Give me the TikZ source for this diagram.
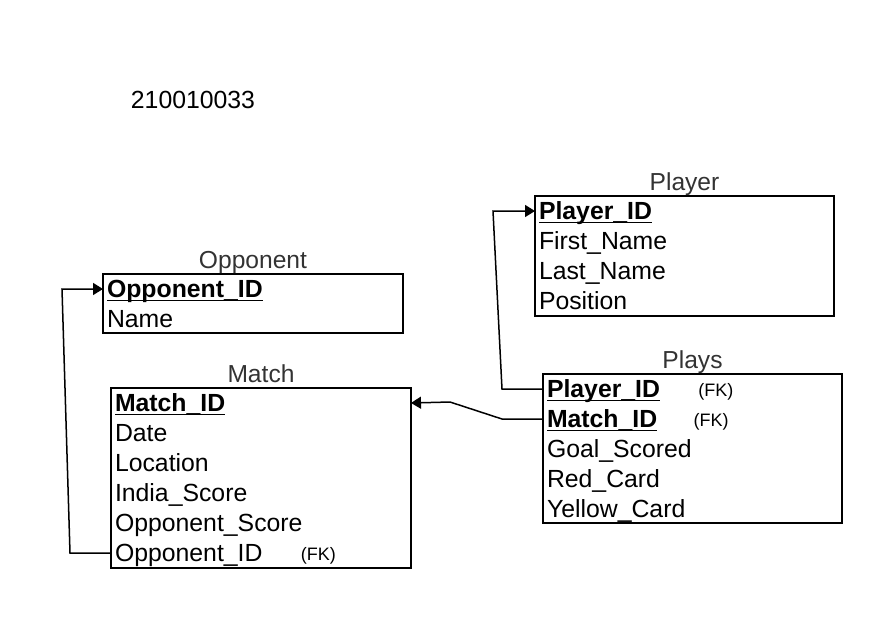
\documentclass[tikz,border=0pt]{standalone}
\usepackage{fontspec}
\setmainfont{Liberation Sans}
\usetikzlibrary{positioning}
\usetikzlibrary{arrows.meta}
\usetikzlibrary{calc}

\newcommand\keyname[1]{\setbox0\hbox{#1}\rlap{\rule[-1.9pt]{\wd0}{0.75pt}}\box0}

\begin{document}
\begin{tikzpicture}[x=0.5pt, y=-0.5pt,
    table/.style={draw, line width=0.8pt, anchor=north west, inner sep=0pt, outer sep=0pt},
    title/.style={font=\fontsize{12.3}{14}\selectfont, text=black!80, inner sep=0pt, text depth=2.5pt},
    row/.style={font=\fontsize{12.4}{14}\selectfont, inner xsep=2pt, inner ysep=0.5pt,
      text height=11.3pt, text depth=2.7pt, outer sep=0pt},
    key/.style={row, font=\fontsize{12.4}{14}\selectfont\bfseries},
    fk/.style={font=\fontsize{9}{10}\selectfont, inner sep=0pt, yshift=-1.2pt},
    link/.style={line width=0.75pt, -{Triangle[length=5pt, width=6pt]}}]
  \useasboundingbox (0,0) rectangle (896,628);

  \node[title, font=\fontsize{12.4}{14}\selectfont, text=black] (id) at (193,102) {210010033};

  \node[table, minimum width=150pt, minimum height=29.5pt,
    label={[title, label distance=0pt]above:Opponent}] (opp) at (103,274) {};
  \node[key, below right=0pt and 0pt of opp.north west] (o1) {\keyname{Opponent\_ID}};
  \node[row, below right=0pt and 0pt of o1.south west] (o2) {Name};

  \node[table, minimum width=150pt, minimum height=90pt,
    label={[title, label distance=0pt]above:Match}] (match) at (111,388) {};
  \node[key, below right=0pt and 0pt of match.north west] (m1) {\keyname{Match\_ID}};
  \node[row, below right=0pt and 0pt of m1.south west] (m2) {Date};
  \node[row, below right=0pt and 0pt of m2.south west] (m3) {Location};
  \node[row, below right=0pt and 0pt of m3.south west] (m4) {India\_Score};
  \node[row, below right=0pt and 0pt of m4.south west] (m5) {Opponent\_Score};
  \node[row, below right=0pt and 0pt of m5.south west] (m6) {Opponent\_ID};
  \node[fk, right=17pt of m6] (m6fk) {(FK)};

  \node[table, minimum width=149.5pt, minimum height=60pt,
    label={[title, label distance=0pt]above:Player}] (player) at (535,196) {};
  \node[key, below right=0pt and 0pt of player.north west] (pl1) {\keyname{Player\_ID}};
  \node[row, below right=0pt and 0pt of pl1.south west] (pl2) {First\_Name};
  \node[row, below right=0pt and 0pt of pl2.south west] (pl3) {Last\_Name};
  \node[row, below right=0pt and 0pt of pl3.south west] (pl4) {Position};

  \node[table, minimum width=149.5pt, minimum height=74.5pt,
    label={[title, label distance=0pt]above:Plays}] (plays) at (543,374) {};
  \node[key, below right=0pt and 0pt of plays.north west] (p1) {\keyname{Player\_ID}};
  \node[key, below right=0pt and 0pt of p1.south west] (p2) {\keyname{Match\_ID}};
  \node[row, below right=0pt and 0pt of p2.south west] (p3) {Goal\_Scored};
  \node[row, below right=0pt and 0pt of p3.south west] (p4) {Red\_Card};
  \node[row, below right=0pt and 0pt of p4.south west] (p5) {Yellow\_Card};
  \node[fk, right=17pt of p1] (p1fk) {(FK)};
  \node[fk, right=16pt of p2] (p2fk) {(FK)};

  \draw[link] (m6.west) -- ++(-41,0) -- ($(o1.west)+(-41,0)$) -- (o1.west);
  \draw[link] (p1.west) -- ++(-41,0) -- ($(pl1.west)+(-42,0)$) -- (pl1.west);
  \draw[link] (p2.west) -- ++(-41,0) -- ++(-52,-17) -- (m1 -| match.east);
\end{tikzpicture}
\end{document}
